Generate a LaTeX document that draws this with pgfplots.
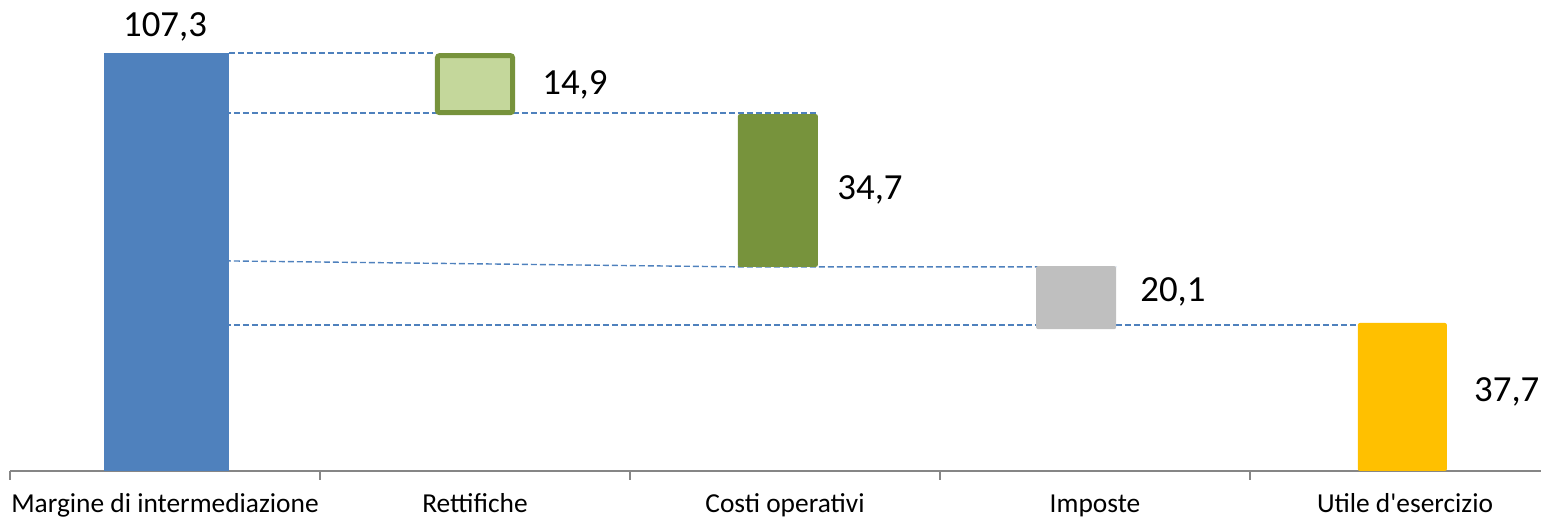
\documentclass[border=0pt]{standalone}
\usepackage{fontspec}
\setmainfont{Carlito}
\usepackage{pgfplots}
\pgfplotsset{compat=1.18}
\definecolor{cblue}{HTML}{4F81BD}
\definecolor{lgreen}{HTML}{C4D79B}
\definecolor{dgreen}{HTML}{77933C}
\definecolor{cgray}{HTML}{BFBFBF}
\definecolor{cgold}{HTML}{FFC000}
\definecolor{axgray}{HTML}{868686}
\begin{document}
\begin{tikzpicture}
\begin{axis}[
  at={(5pt,23.5pt)}, anchor=south west,
  scale only axis, width=775pt, height=233.75pt,
  xmin=-0.5, xmax=4.5, ymin=0, ymax=120,
  axis x line*=bottom, axis y line=none,
  x axis line style={axgray, line width=1pt, -},
  xtick={0,1,2,3,4},
  xticklabels={Margine di intermediazione, Rettifiche, Costi operativi, Imposte, Utile d\textquotesingle esercizio},
  major tick length=0pt,
  minor xtick={-0.5,0.5,1.5,2.5,3.5,4.5},
  minor tick length=4.5pt, tick align=outside,
  minor tick style={axgray, line width=0.8pt},
  xticklabel style={font=\fontsize{13.7}{16}\selectfont, text height=10pt, text depth=3pt, yshift=-7.3pt},
  clip=false,
]
% Margine di intermediazione
\addplot[draw=none, fill=cblue] coordinates {(-0.197,0) (0.206,0) (0.206,107.3) (-0.197,107.3)} -- cycle;
% connector lines
\addplot[cblue, line width=0.7pt, dash pattern=on 3pt off 1.5pt] coordinates {(0.206,107.3) (0.871,107.3)};
\addplot[cblue, line width=0.7pt, dash pattern=on 3pt off 1.5pt] coordinates {(-0.097,91.9) (2.106,91.9)};
\addplot[cblue, line width=0.7pt, dash pattern=on 3pt off 1.5pt] coordinates {(-0.097,54.2) (1.848,52.4) (3.068,52.4)};
\addplot[cblue, line width=0.7pt, dash pattern=on 3pt off 1.5pt] coordinates {(-0.097,37.5) (3.848,37.5)};
% Rettifiche
\addplot[draw=dgreen, line width=2.5pt, fill=lgreen, rounded corners=1pt] coordinates {(0.879,92.0) (1.121,92.0) (1.121,106.6) (0.879,106.6)} -- cycle;
% Costi operativi
\addplot[draw=none, fill=dgreen, rounded corners=1pt] coordinates {(1.848,52.4) (2.106,52.4) (2.106,91.6) (1.848,91.6)} -- cycle;
% Imposte
\addplot[draw=none, fill=cgray, rounded corners=1pt] coordinates {(2.810,36.4) (3.068,36.4) (3.068,52.6) (2.810,52.6)} -- cycle;
% Utile d'esercizio
\addplot[draw=none, fill=cgold, rounded corners=1pt] coordinates {(3.848,0) (4.135,0) (4.135,38.0) (3.848,38.0)} -- cycle;
% value labels
\node[font=\fontsize{18.4}{22}\selectfont] at (axis cs:0.0,114.0) {107,3};
\node[font=\fontsize{18.4}{22}\selectfont, anchor=west, inner sep=0pt] at (axis cs:1.216,99.1) {14,9};
\node[font=\fontsize{18.4}{22}\selectfont, anchor=west, inner sep=0pt] at (axis cs:2.168,72.1) {34,7};
\node[font=\fontsize{18.4}{22}\selectfont, anchor=west, inner sep=0pt] at (axis cs:3.145,45.9) {20,1};
\node[font=\fontsize{18.4}{22}\selectfont, anchor=west, inner sep=0pt] at (axis cs:4.222,20.3) {37,7};
\end{axis}
\pgfresetboundingbox
\useasboundingbox (0,0) rectangle (770.5pt,259pt);
\end{tikzpicture}
\end{document}
